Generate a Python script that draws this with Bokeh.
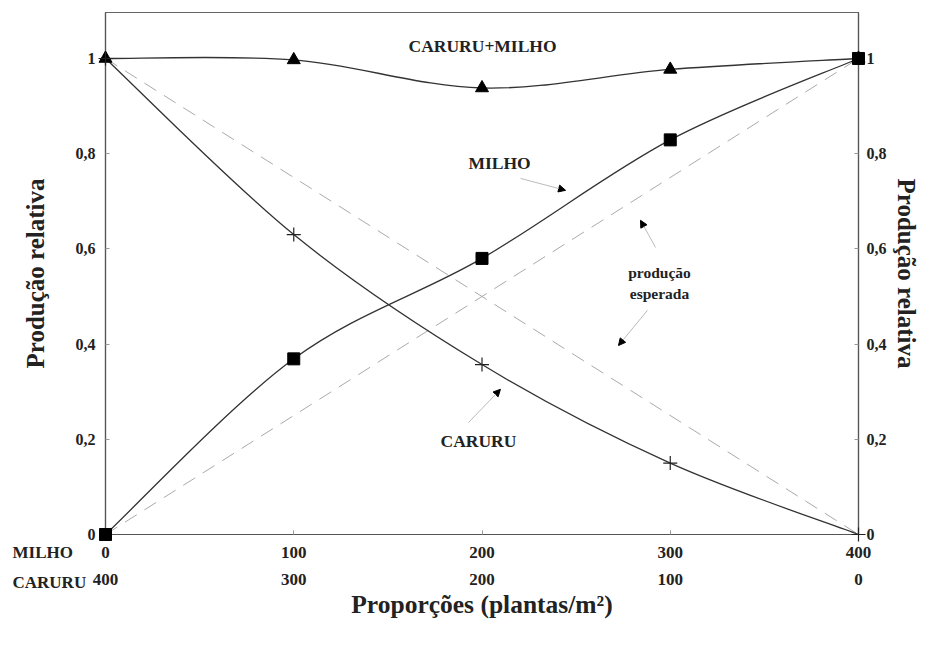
import numpy as np
from bokeh.plotting import figure
from bokeh.models import LinearAxis, FixedTicker, Range1d, Label, Arrow, NormalHead
from bokeh.core.properties import value
from bokeh.embed import file_html
from bokeh.resources import INLINE

# ---------------- data ----------------
proportions = [0, 100, 200, 300, 400]          # MILHO plants/m2
milho_labels = ["0", "100", "200", "300", "400"]
caruru_labels = ["400", "300", "200", "100", "0"]
milho = [0.0, 0.369, 0.580, 0.829, 1.0]
caruru = [1.0, 0.630, 0.357, 0.150, 0.0]
total = [1.0, 0.997, 0.938, 0.977, 1.0]
expected_x = [0, 400]
expected_milho = [0.0, 1.0]
expected_caruru = [1.0, 0.0]
y_ticks = [0, 0.2, 0.4, 0.6, 0.8, 1]
y_tick_labels = ["0", "0,2", "0,4", "0,6", "0,8", "1"]
row_names = ["MILHO", "CARURU"]

FONT = "Liberation Serif"
INK = "#222222"


def catmull_bezier(xs, ys):
    P = np.column_stack([xs, ys]).astype(float)
    ext = np.vstack([P[0], P, P[-1]])
    out = {k: [] for k in ("x0", "y0", "x1", "y1", "cx0", "cy0", "cx1", "cy1")}
    for i in range(len(P) - 1):
        p0, p1, p2, p3 = ext[i], ext[i + 1], ext[i + 2], ext[i + 3]
        c0 = p1 + (p2 - p0) / 6.0
        c1 = p2 - (p3 - p1) / 6.0
        out["x0"].append(p1[0]); out["y0"].append(p1[1])
        out["x1"].append(p2[0]); out["y1"].append(p2[1])
        out["cx0"].append(c0[0]); out["cy0"].append(c0[1])
        out["cx1"].append(c1[0]); out["cy1"].append(c1[1])
    return out


p = figure(width=924, height=631, x_range=Range1d(0, 400), y_range=Range1d(0, 1.0966),
           output_backend="svg", toolbar_location=None,
           x_axis_location=None, y_axis_location=None,
           min_border_left=105, min_border_right=66, min_border_top=12, min_border_bottom=97)
p.grid.grid_line_color = None
p.outline_line_color = "#666666"
p.outline_line_width = 1.2
p.background_fill_color = "white"
p.border_fill_color = "white"


def style_axis(ax, size="16px"):
    ax.major_label_text_font = FONT
    ax.major_label_text_font_style = "bold"
    ax.major_label_text_font_size = size
    ax.major_label_text_color = INK
    ax.axis_label_text_font = FONT
    ax.axis_label_text_font_style = "bold"
    ax.axis_label_text_color = INK
    ax.minor_tick_line_color = None
    ax.major_tick_out = 0
    ax.major_tick_in = 4
    ax.major_tick_line_color = "#999999"
    ax.axis_line_color = "#555555"
    ax.axis_line_width = 1.2


yover = {t: l for t, l in zip(y_ticks, y_tick_labels)}
yl = LinearAxis(ticker=FixedTicker(ticks=y_ticks), major_label_overrides=yover,
                axis_label="Produção relativa")
style_axis(yl)
yl.axis_label_text_font_size = "25px"
yl.major_label_standoff = 10
yl.axis_label_standoff = 24
p.add_layout(yl, "left")

yr = LinearAxis(ticker=FixedTicker(ticks=y_ticks), major_label_overrides=yover,
                axis_label="Produção relativa")
style_axis(yr)
yr.axis_label_text_font_size = "25px"
yr.major_label_standoff = 8
yr.axis_label_standoff = 3
p.add_layout(yr, "right")

xb1 = LinearAxis(ticker=FixedTicker(ticks=proportions),
                 major_label_overrides={t: l for t, l in zip(proportions, milho_labels)})
style_axis(xb1, "17px")
xb1.major_label_standoff = 12
p.add_layout(xb1, "below")

xb2 = LinearAxis(ticker=FixedTicker(ticks=proportions),
                 major_label_overrides={t: l for t, l in zip(proportions, caruru_labels)},
                 axis_label="Proporções (plantas/m²)")
style_axis(xb2, "17px")
xb2.axis_line_color = None
xb2.major_tick_line_color = None
xb2.major_label_standoff = 13
xb2.axis_label_standoff = 2
xb2.axis_label_text_font_size = "25.5px"
p.add_layout(xb2, "below")

# expected production (dashed)
p.line(expected_x, expected_milho, line_color="#aaaaaa", line_width=1, line_dash="14 9")
p.line(expected_x, expected_caruru, line_color="#aaaaaa", line_width=1, line_dash="14 9")

# smooth curves
for ys in (total, milho, caruru):
    b = catmull_bezier(proportions, ys)
    p.bezier(x0=b["x0"], y0=b["y0"], x1=b["x1"], y1=b["y1"],
             cx0=b["cx0"], cy0=b["cy0"], cx1=b["cx1"], cy1=b["cy1"],
             line_color="#333333", line_width=1.3)

p.scatter(proportions, total, marker="triangle", size=13, color="black", level="overlay")
p.scatter(proportions, milho, marker="square", size=12, color="black", level="overlay")
p.scatter(proportions, caruru, marker="cross", size=14, line_color="#222222",
          line_width=1.2, level="overlay")

# annotations
def lab(x, y, text, size="17.5px", align="center"):
    p.add_layout(Label(x=x, y=y, text=text, text_font=FONT, text_font_style="bold",
                       text_font_size=size, text_color=INK, text_align=align,
                       text_baseline="middle"))

lab(200.3, 1.027, "CARURU+MILHO")
lab(209.3, 0.781, "MILHO")
lab(294.3, 0.550, "produção", "15.5px")
lab(294.3, 0.506, "esperada", "15.5px")
lab(198.1, 0.197, "CARURU")

# row names of the two x scales (outside the frame, drawn as unclipped overlay text)
p.text(x=[-49.4, -49.4], y=[-0.0378, -0.1015], text=row_names,
       text_font=value(FONT), text_font_style="bold", text_font_size="17px",
       text_color=INK, text_align="left", text_baseline="middle", level="overlay")

for xs, ys, xe, ye in [(220.5, 0.748, 244.4, 0.723),
                       (292.2, 0.603, 284.2, 0.660),
                       (287.9, 0.471, 272.5, 0.397),
                       (192.8, 0.235, 209.8, 0.305)]:
    p.add_layout(Arrow(end=NormalHead(size=7, fill_color="black", line_color="black"),
                       x_start=xs, y_start=ys, x_end=xe, y_end=ye,
                       line_color="#aaaaaa", line_width=0.8))

open("out.html", "w").write(file_html(p, INLINE))
